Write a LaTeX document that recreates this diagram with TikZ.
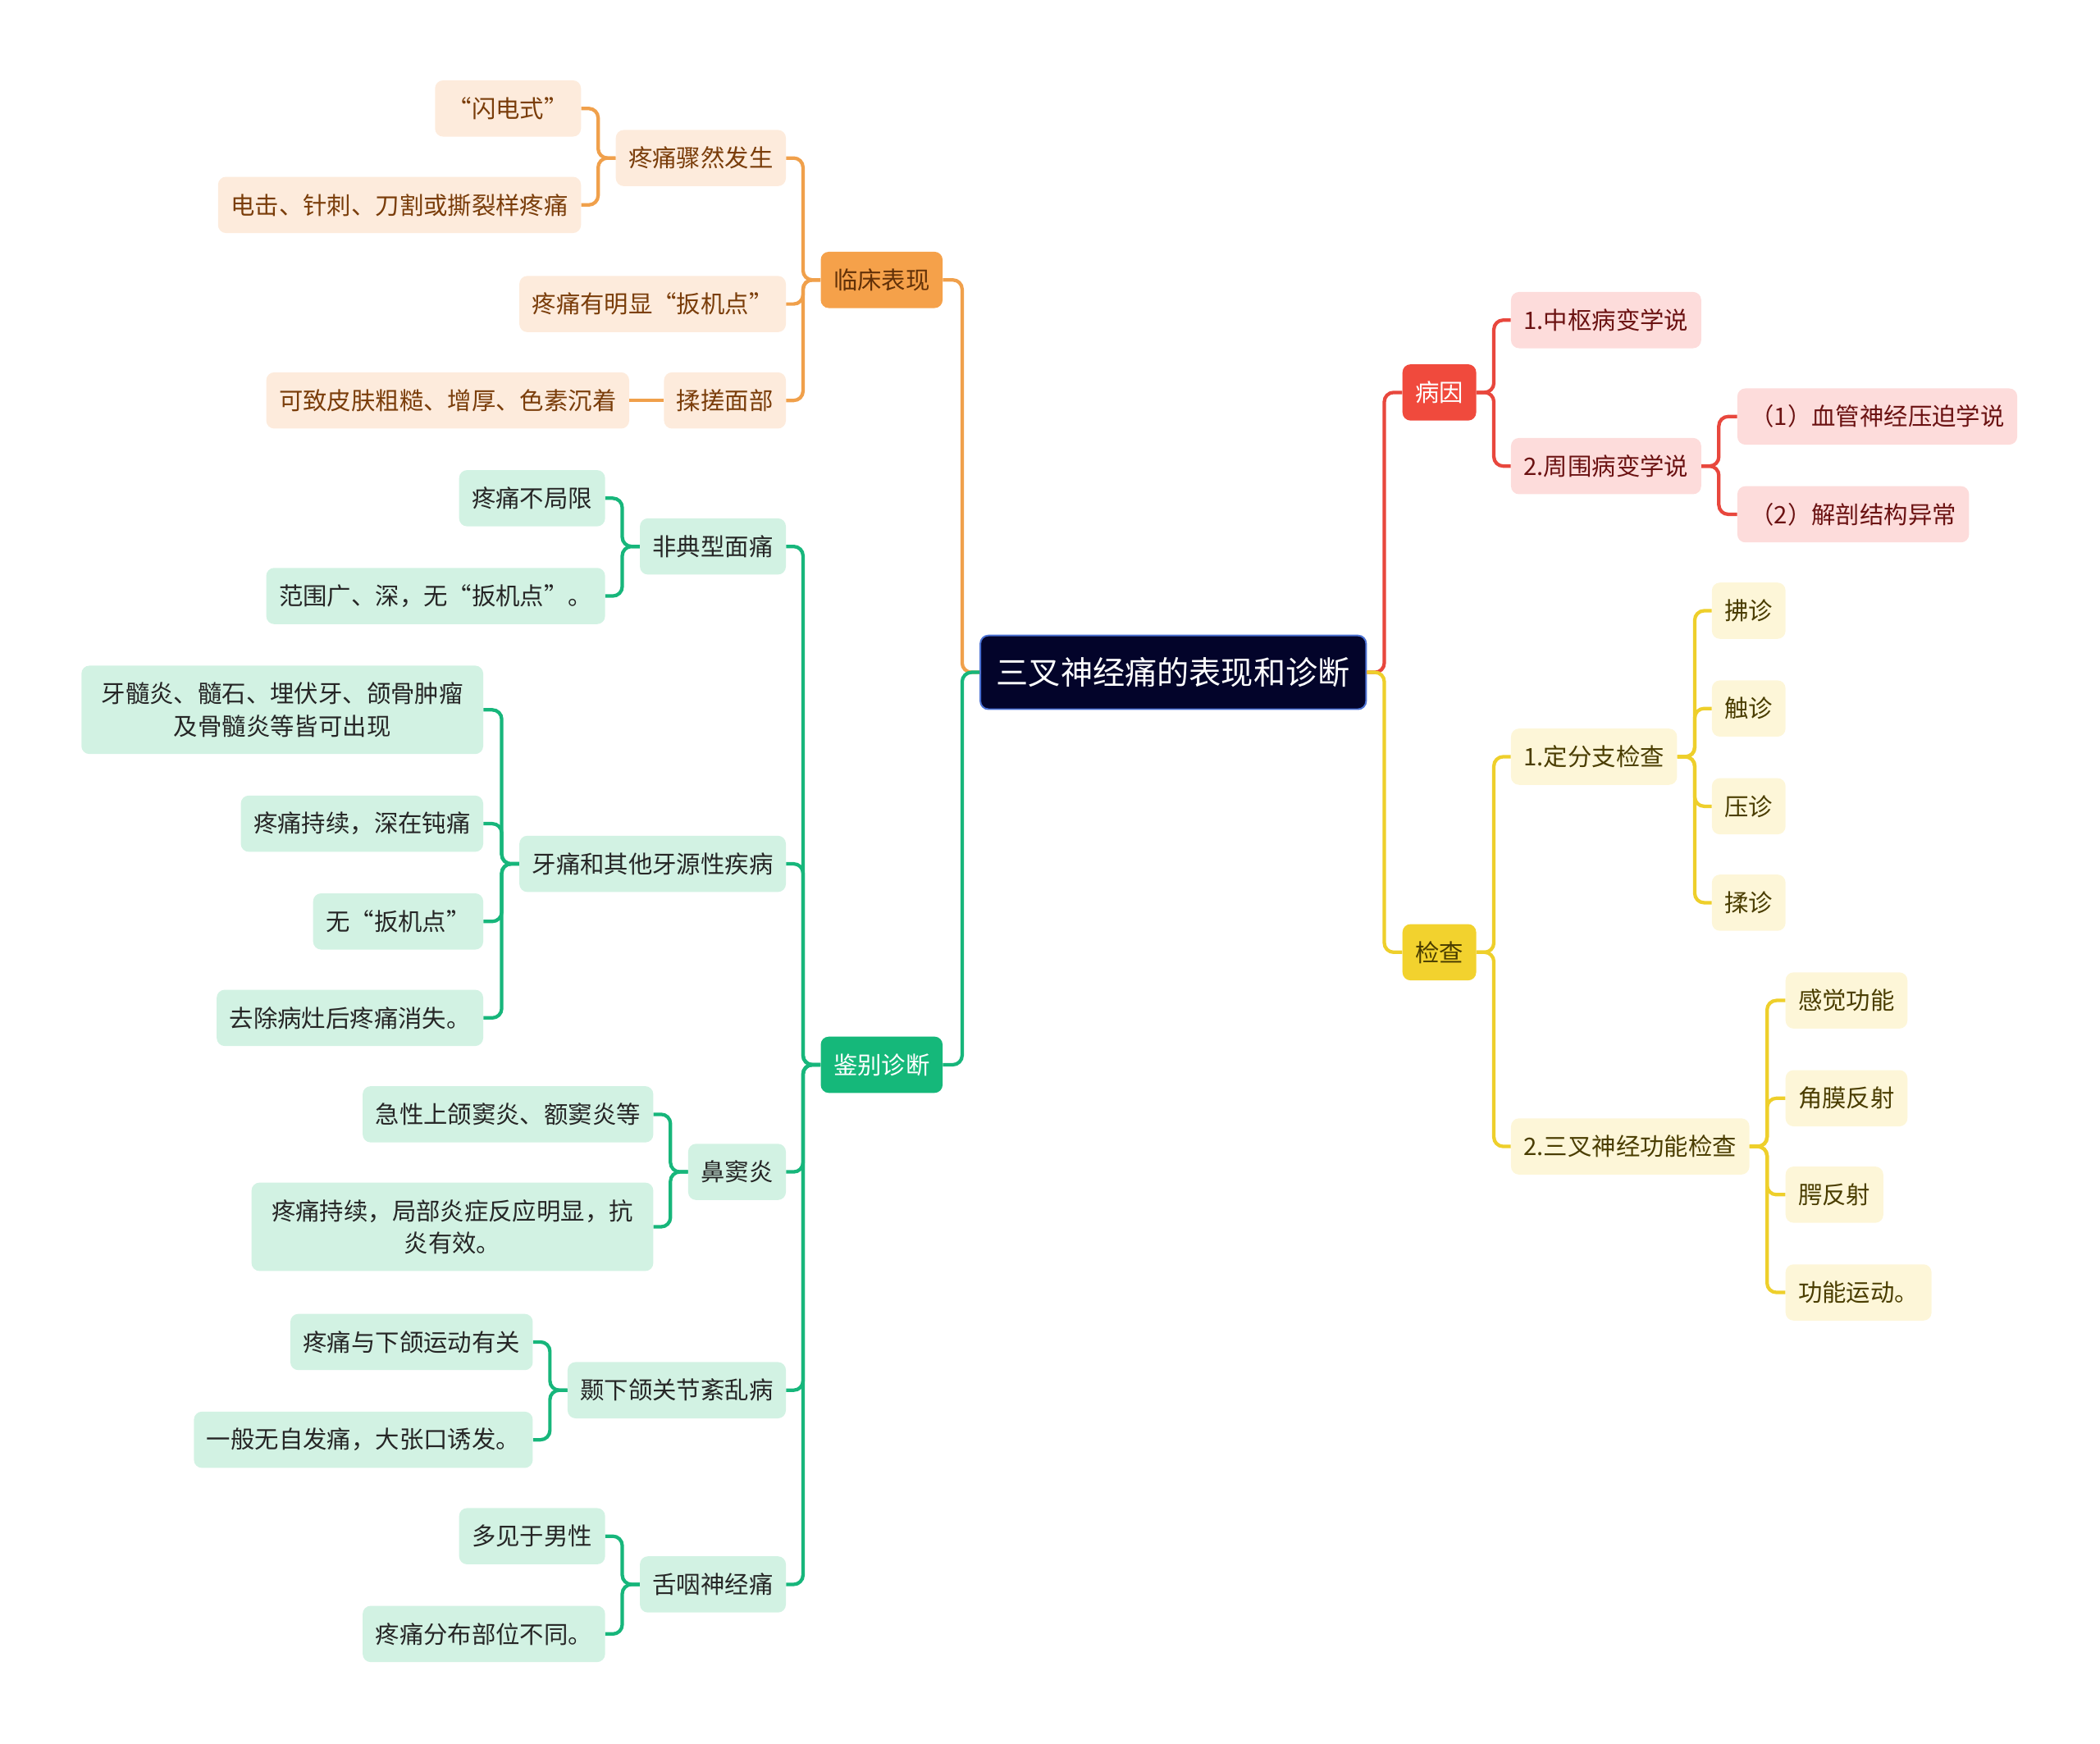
\documentclass[tikz,border=0pt]{standalone}
\usepackage{fontspec}
\setmainfont{Noto Sans CJK SC}
\definecolor{rootfill}{HTML}{03042A}
\definecolor{rootline}{HTML}{4C72D4}
\definecolor{oline}{HTML}{F0A04B}
\definecolor{ofill}{HTML}{F5A14A}
\definecolor{olight}{HTML}{FDEBDC}
\definecolor{otext}{HTML}{7A3D0A}
\definecolor{gline}{HTML}{17B67B}
\definecolor{gfill}{HTML}{15B87A}
\definecolor{glight}{HTML}{D2F2E3}
\definecolor{rline}{HTML}{E8473D}
\definecolor{rfill}{HTML}{F04A3D}
\definecolor{rlight}{HTML}{FDDCDB}
\definecolor{rtext}{HTML}{6B1212}
\definecolor{yline}{HTML}{EECF2B}
\definecolor{yfill}{HTML}{F2D22E}
\definecolor{ylight}{HTML}{FDF6D8}
\definecolor{ytext}{HTML}{4A3D00}

\begin{document}
\begin{tikzpicture}[x=1pt, y=-1pt,
    every node/.style={font=\fontsize{18}{24}\selectfont, rounded corners=6pt,
      inner xsep=9.5pt, inner ysep=2pt, minimum height=42pt, align=center},
    root/.style={fill=rootfill, draw=rootline, line width=1.2pt, text=white,
      font=\fontsize{24}{30}\selectfont, minimum height=55pt, inner xsep=12pt},
    obox/.style={fill=ofill, text=otext!80!black, anchor=east},
    oitem/.style={fill=olight, text=otext, anchor=east},
    gbox/.style={fill=gfill, text=white, anchor=east},
    gitem/.style={fill=glight, text=black!85, anchor=east},
    rbox/.style={fill=rfill, text=white, anchor=west},
    ritem/.style={fill=rlight, text=rtext, anchor=west},
    ybox/.style={fill=yfill, text=ytext, anchor=west},
    yitem/.style={fill=ylight, text=ytext, anchor=west},
    twolines/.style={minimum height=66pt, minimum width=300pt},
    link/.style={line width=2.6pt, rounded corners=7pt}
  ]
    \useasboundingbox (0,0) rectangle (1568,1302);

    \node[root] (root) at (876,502) {三叉神经痛的表现和诊断};

    % 临床表现
    \node[obox] (lc) at (704,209) {临床表现};
    \node[oitem] (lc1) at (587,118) {疼痛骤然发生};
    \node[oitem] (lc1a) at (434,81) {“闪电式”};
    \node[oitem] (lc1b) at (434,153) {电击、针刺、刀割或撕裂样疼痛};
    \node[oitem] (lc2) at (587,227) {疼痛有明显“扳机点”};
    \node[oitem] (lc3) at (587,299) {揉搓面部};
    \node[oitem] (lc3a) at (470,299) {可致皮肤粗糙、增厚、色素沉着};

    % 鉴别诊断
    \node[gbox] (jb) at (704,795) {鉴别诊断};
    \node[gitem] (jb1) at (587,408) {非典型面痛};
    \node[gitem] (jb1a) at (452,372) {疼痛不局限};
    \node[gitem] (jb1b) at (452,445) {范围广、深，无“扳机点”。};
    \node[gitem] (jb2) at (587,645) {牙痛和其他牙源性疾病};
    \node[gitem, twolines] (jb2a) at (361,530) {牙髓炎、髓石、埋伏牙、颌骨肿瘤\\及骨髓炎等皆可出现};
    \node[gitem] (jb2b) at (361,615) {疼痛持续，深在钝痛};
    \node[gitem] (jb2c) at (361,688) {无“扳机点”};
    \node[gitem] (jb2d) at (361,760) {去除病灶后疼痛消失。};
    \node[gitem] (jb3) at (587,875) {鼻窦炎};
    \node[gitem] (jb3a) at (488,832) {急性上颌窦炎、额窦炎等};
    \node[gitem, twolines] (jb3b) at (488,916) {疼痛持续，局部炎症反应明显，抗\\炎有效。};
    \node[gitem] (jb4) at (587,1038) {颞下颌关节紊乱病};
    \node[gitem] (jb4a) at (398,1002) {疼痛与下颌运动有关};
    \node[gitem] (jb4b) at (398,1075) {一般无自发痛，大张口诱发。};
    \node[gitem] (jb5) at (587,1183) {舌咽神经痛};
    \node[gitem] (jb5a) at (452,1147) {多见于男性};
    \node[gitem] (jb5b) at (452,1220) {疼痛分布部位不同。};

    % 病因
    \node[rbox] (by) at (1047,293) {病因};
    \node[ritem] (by1) at (1128,239) {1.中枢病变学说};
    \node[ritem] (by2) at (1128,348) {2.周围病变学说};
    \node[ritem] (by2a) at (1297,311) {（1）血管神经压迫学说};
    \node[ritem] (by2b) at (1297,384) {（2）解剖结构异常};

    % 检查
    \node[ybox] (jc) at (1047,711) {检查};
    \node[yitem] (jc1) at (1128,565) {1.定分支检查};
    \node[yitem] (jc1a) at (1278,456) {拂诊};
    \node[yitem] (jc1b) at (1278,529) {触诊};
    \node[yitem] (jc1c) at (1278,602) {压诊};
    \node[yitem] (jc1d) at (1278,674) {揉诊};
    \node[yitem] (jc2) at (1128,856) {2.三叉神经功能检查};
    \node[yitem] (jc2a) at (1333,747) {感觉功能};
    \node[yitem] (jc2b) at (1333,820) {角膜反射};
    \node[yitem] (jc2c) at (1333,892) {腭反射};
    \node[yitem] (jc2d) at (1333,965) {功能运动。};

    % connectors
    \draw[link, oline] (root.west) -- ++(-13,0) |- (lc.east);
    \draw[link, gline] (root.west) -- ++(-13,0) |- (jb.east);
    \draw[link, rline] (root.east) -- ++(13,0) |- (by.west);
    \draw[link, yline] (root.east) -- ++(13,0) |- (jc.west);

    \foreach \c in {lc1,lc2,lc3}
      \draw[link, oline] (lc.west) -- ++(-13,0) |- (\c.east);
    \foreach \c in {lc1a,lc1b}
      \draw[link, oline] (lc1.west) -- ++(-13,0) |- (\c.east);
    \draw[link, oline] (lc3.west) -- (lc3a.east);

    \foreach \c in {jb1,jb2,jb3,jb4,jb5}
      \draw[link, gline] (jb.west) -- ++(-13,0) |- (\c.east);
    \foreach \c in {jb1a,jb1b}
      \draw[link, gline] (jb1.west) -- ++(-13,0) |- (\c.east);
    \foreach \c in {jb2a,jb2b,jb2c,jb2d}
      \draw[link, gline] (jb2.west) -- ++(-13,0) |- (\c.east);
    \foreach \c in {jb3a,jb3b}
      \draw[link, gline] (jb3.west) -- ++(-13,0) |- (\c.east);
    \foreach \c in {jb4a,jb4b}
      \draw[link, gline] (jb4.west) -- ++(-13,0) |- (\c.east);
    \foreach \c in {jb5a,jb5b}
      \draw[link, gline] (jb5.west) -- ++(-13,0) |- (\c.east);

    \foreach \c in {by1,by2}
      \draw[link, rline] (by.east) -- ++(13,0) |- (\c.west);
    \foreach \c in {by2a,by2b}
      \draw[link, rline] (by2.east) -- ++(13,0) |- (\c.west);

    \foreach \c in {jc1,jc2}
      \draw[link, yline] (jc.east) -- ++(13,0) |- (\c.west);
    \foreach \c in {jc1a,jc1b,jc1c,jc1d}
      \draw[link, yline] (jc1.east) -- ++(13,0) |- (\c.west);
    \foreach \c in {jc2a,jc2b,jc2c,jc2d}
      \draw[link, yline] (jc2.east) -- ++(13,0) |- (\c.west);
  \end{tikzpicture}
\end{document}
